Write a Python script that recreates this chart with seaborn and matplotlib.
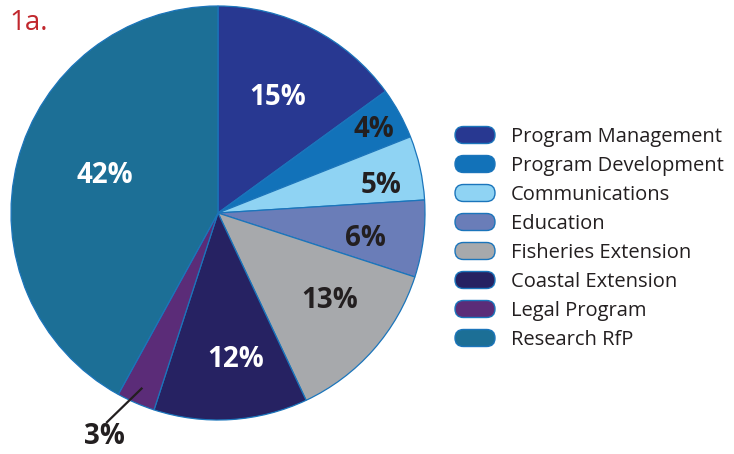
import numpy as np
import matplotlib
matplotlib.use("Agg")
import matplotlib.pyplot as plt
from matplotlib.patches import FancyBboxPatch
import seaborn as sns

# Budget shares by program area
categories = ["Program Management", "Program Development", "Communications",
              "Education", "Fisheries Extension", "Coastal Extension",
              "Legal Program", "Research RfP"]
shares = [15, 4, 5, 6, 13, 12, 3, 42]
colors = ["#283891", "#1272b9", "#8fd3f3", "#6a7db8",
          "#a7a9ac", "#262262", "#5b2c78", "#1c6f96"]
label_colors = ["white", "#231f20", "#231f20", "#231f20",
                "#231f20", "white", "#231f20", "white"]

sns.set_theme(style="white")
plt.rcParams["font.family"] = ["Open Sans", "DejaVu Sans"]

W, H = 734, 454
fig = plt.figure(figsize=(W / 100, H / 100), dpi=100)

# Overlay axes in pixel coordinates for the title and the legend
ov = fig.add_axes([0, 0, 1, 1])
ov.set_xlim(0, W)
ov.set_ylim(H, 0)
ov.axis("off")

# Pie axes: center (218, 213) px, radius 207 px
cx, cy, R = 218, 213, 207
ax = fig.add_axes([(cx - R) / W, (H - cy - R) / H, 2 * R / W, 2 * R / H])
wedges, _ = ax.pie(shares, colors=colors, startangle=90, counterclock=False,
                   radius=1.0,
                   wedgeprops=dict(edgecolor="#1b75bb", linewidth=0.9))
ax.set_xlim(-1, 1)
ax.set_ylim(-1, 1)
ax.set_aspect("equal")
ax.axis("off")

# Label placement: radius fraction and angular nudge (degrees) per wedge
label_radius = [0.64, 0.86, 0.80, 0.72, 0.68, 0.70, None, 0.58]
label_nudge = [0, 0, -2, -1.5, 4, 3.5, 0, -5]
dy_text = -0.012  # small downward shift so glyphs sit centred

for i, (w, v) in enumerate(zip(wedges, shares)):
    text = f"{v}%"
    mid = np.deg2rad((w.theta1 + w.theta2) / 2)
    if label_radius[i] is None:
        # Small slice: leader line out to a label below the pie
        x0, y0 = 0.92 * np.cos(mid), 0.92 * np.sin(mid)
        x1, y1 = x0 - 0.175, y0 - 0.17
        ax.plot([x0, x1], [y0, y1], color="#231f20", lw=1.6,
                solid_capstyle="butt", clip_on=False)
        ax.text(x1 - 0.01, y1 - 0.065, text, ha="center",
                va="center", fontsize=20, fontweight="bold",
                color=label_colors[i], clip_on=False)
        continue
    a = mid + np.deg2rad(label_nudge[i])
    r = label_radius[i]
    ax.text(r * np.cos(a), r * np.sin(a) + dy_text, text, ha="center",
            va="center", fontsize=20, fontweight="bold",
            color=label_colors[i])

# Title
ov.text(9, 23, "1a.", ha="left", va="center", fontsize=20,
        color="#c1272d")

# Legend with rounded swatches
y0, dy = 135, 29
for i, (c, name) in enumerate(zip(colors, categories)):
    y = y0 + i * dy
    box = FancyBboxPatch((455, y - 8.5), 40, 17,
                         boxstyle="round,pad=0,rounding_size=8.5",
                         facecolor=c, edgecolor="#1b75bb", linewidth=1.0)
    ov.add_patch(box)
    ov.text(511, y + 2, name, ha="left", va="center", fontsize=14.5,
            color="#231f20")

fig.savefig("out.png", dpi=100)
